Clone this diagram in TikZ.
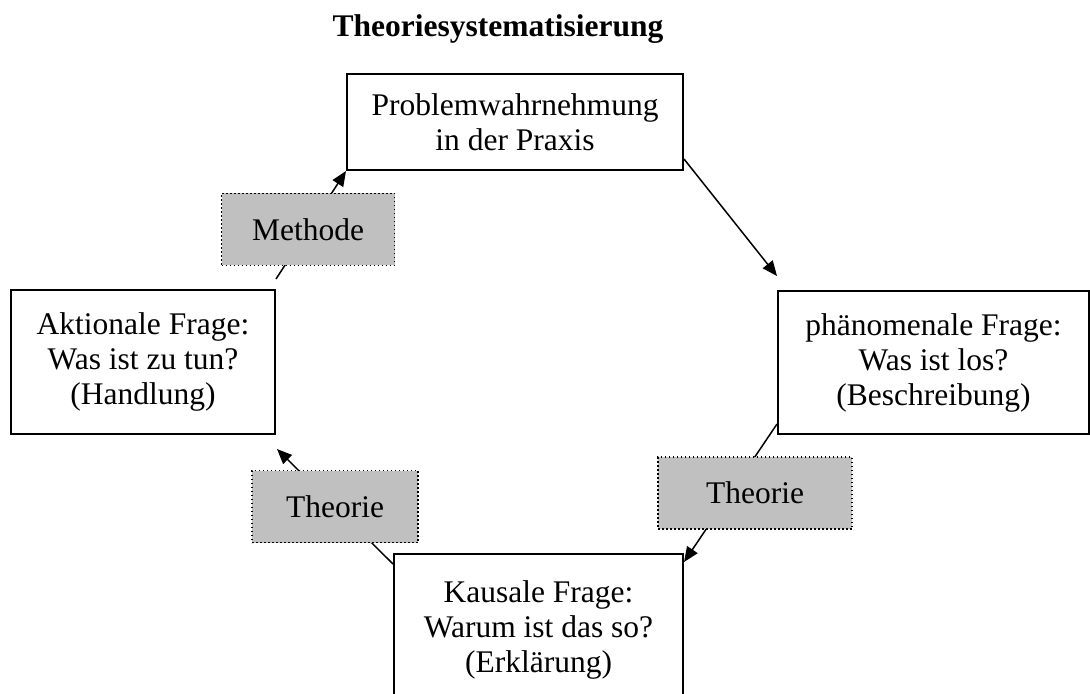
\documentclass[tikz,border=0pt]{standalone}
\usepackage{fontspec}
\setmainfont{Liberation Serif}
\usetikzlibrary{arrows.meta}
\definecolor{graufarbe}{HTML}{C0C0C0}
\tikzset{
  kasten/.style={draw, line width=0.8pt, align=center, inner sep=0pt,
    font=\fontsize{12.6}{14}\selectfont},
  grau/.style={draw, densely dotted, line width=0.6pt, fill=graufarbe,
    inner sep=0pt, minimum height=28.8pt, font=\fontsize{12.6}{14}\selectfont}
}
\begin{document}
\begin{tikzpicture}[x=0.4pt,y=-0.4pt,>={Triangle[length=6pt,width=5pt]},line width=0.6pt]
\useasboundingbox (0,0) rectangle (1090,693);
%Titel
\node[font=\bfseries\fontsize{12.6}{14}\selectfont] (titel) at (498,29) {Theoriesystematisierung};
%Kasten 1
\node[kasten, minimum width=134.4pt, minimum height=38.4pt] (praxis) at (515,122) {Problemwahrnehmung\\in der Praxis};
%Kasten 2
\node[kasten, minimum width=124.4pt, minimum height=57.2pt] (phaen) at (933.5,362.5) {phänomenale Frage:\\Was ist los?\\(Beschreibung)};
%Kasten 3
\node[kasten, minimum width=115.6pt, minimum height=60.8pt] (kausal) at (538.5,630) {Kausale Frage:\\Warum ist das so?\\(Erklärung)};
%Kasten 4
\node[kasten, minimum width=105.6pt, minimum height=57.6pt] (aktion) at (143,362) {Aktionale Frage:\\Was ist zu tun?\\(Handlung)};
%Pfeile mit grauen Kaesten
\draw[->] ([yshift=4pt]aktion.north east) -- node[grau, pos=0.46, minimum width=69.2pt] (methode) {Methode} (praxis.south west);
\draw[->] ([yshift=4.8pt]praxis.south east) -- ([yshift=5.6pt]phaen.north west);
\draw[->] ([yshift=4.4pt]phaen.south west) -- node[grau, pos=0.5, xshift=9.8pt, minimum width=77.6pt] (theorie1) {Theorie} ([yshift=-3.6pt]kausal.north east);
\draw[->] ([yshift=-4.4pt]kausal.north west) -- node[grau, pos=0.5, minimum width=66.4pt] (theorie2) {Theorie} ([shift={(0.4pt,-5.6pt)}]aktion.south east);
\end{tikzpicture}
\end{document}
